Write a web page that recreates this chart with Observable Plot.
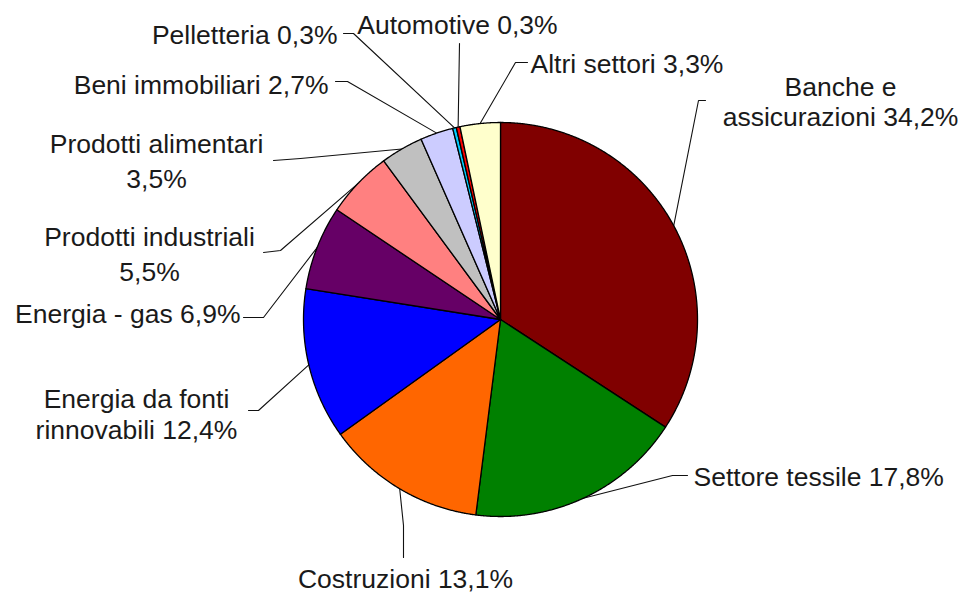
<!DOCTYPE html>
<html><head><meta charset="utf-8">
<script src="https://cdn.jsdelivr.net/npm/d3@7"></script>
<script src="https://cdn.jsdelivr.net/npm/@observablehq/plot@0.6"></script>
<style>body{margin:0;background:#fff}</style>
</head><body><div id="chart"></div>
<script>
// ---- data ----
const sectors = ["Banche e assicurazioni","Settore tessile","Costruzioni","Energia da fonti rinnovabili","Energia - gas","Prodotti industriali","Prodotti alimentari","Beni immobiliari","Pelletteria","Automotive","Altri settori"];
const shares = [34.2, 17.8, 13.1, 12.4, 6.9, 5.5, 3.5, 2.7, 0.3, 0.3, 3.3];
const labels = ["Banche e\nassicurazioni 34,2%","Settore tessile 17,8%","Costruzioni 13,1%","Energia da fonti\nrinnovabili 12,4%","Energia - gas 6,9%","Prodotti industriali\n5,5%","Prodotti alimentari\n3,5%","Beni immobiliari 2,7%","Pelletteria 0,3%","Automotive 0,3%","Altri settori 3,3%"];
const colors = ["#800000","#008000","#FF6600","#0000FF","#660066","#FF8080","#C0C0C0","#CCCCFF","#00CCFF","#FF0000","#FFFFCC"];

// ---- layout (label placement, chart units relative to pie centre, y downwards) ----
const R = 197;
const layout = [
  {x: 340, y: -194, anchor: "middle", lh: 1.1, leader: [[205,-219],[198,-219]]},
  {x: 193, y: 166, anchor: "start", lh: 1, leader: [[187,156],[172,156]]},
  {x: -95, y: 268, anchor: "middle", lh: 1, leader: [[-97,238],[-97,206]]},
  {x: -364, y: 119, anchor: "middle", lh: 1.15, leader: [[-252,91],[-242,91]]},
  {x: -260, y: 3, anchor: "end", lh: 1, leader: [[-257,-2],[-237,-2]]},
  {x: -351, y: -39, anchor: "middle", lh: 1.3, leader: [[-237,-67],[-220,-69]]},
  {x: -344, y: -132, anchor: "middle", lh: 1.3, leader: [[-227,-159],[-200,-161]]},
  {x: -172, y: -226, anchor: "end", lh: 1, leader: [[-165,-238],[-153,-238]]},
  {x: -163, y: -276, anchor: "end", lh: 1, leader: [[-157,-286],[-147,-286]]},
  {x: -43, y: -286, anchor: "middle", lh: 1, leader: [[-41,-276]]},
  {x: 30, y: -247, anchor: "start", lh: 1, leader: [[27,-257],[15,-257]]}
];

// ---- geometry from data ----
const total = d3.sum(shares);
const angles = [];
let acc = 0;
shares.forEach(v => { const a0 = acc / total * 2 * Math.PI; acc += v; angles.push([a0, acc / total * 2 * Math.PI]); });

const slicePts = [];
angles.forEach(([a0, a1], i) => {
  slicePts.push({s: sectors[i], x: 0, y: 0});
  const n = Math.max(2, Math.ceil((a1 - a0) / (Math.PI / 720)));
  for (let k = 0; k <= n; k++) {
    const a = a0 + (a1 - a0) * k / n;
    slicePts.push({s: sectors[i], x: R * Math.sin(a), y: -R * Math.cos(a)});
  }
});

const leaderPts = [];
angles.forEach(([a0, a1], i) => {
  layout[i].leader.forEach(([x, y]) => leaderPts.push({i, x, y}));
  const m = (a0 + a1) / 2;
  leaderPts.push({i, x: R * Math.sin(m), y: -R * Math.cos(m)});
});

const font = "'Liberation Sans', Arial, sans-serif";
const textMarks = labels.map((t, i) => Plot.text([i], {
  x: () => layout[i].x, y: () => layout[i].y, text: () => t,
  textAnchor: layout[i].anchor, lineAnchor: "bottom", lineHeight: layout[i].lh,
  fontSize: 26.5, fontFamily: font, fill: "#1a1a1a"
}));

const chart = Plot.plot({
  width: 963, height: 593,
  marginTop: 0, marginBottom: 0, marginLeft: 0, marginRight: 0,
  x: {domain: [-500, 463], axis: null},
  y: {domain: [-319, 274], reverse: true, axis: null},
  color: {domain: sectors, range: colors},
  style: {background: "#fff"},
  marks: [
    Plot.line(leaderPts, {x: "x", y: "y", z: "i", stroke: "#111", strokeWidth: 1.1, curve: "linear"}),
    Plot.line(slicePts, {x: "x", y: "y", z: "s", fill: "s", stroke: "#000", strokeWidth: 1.3, curve: "linear-closed", strokeLinejoin: "round"}),
    ...textMarks
  ]
});
document.getElementById("chart").appendChild(chart);
</script>
</body></html>
